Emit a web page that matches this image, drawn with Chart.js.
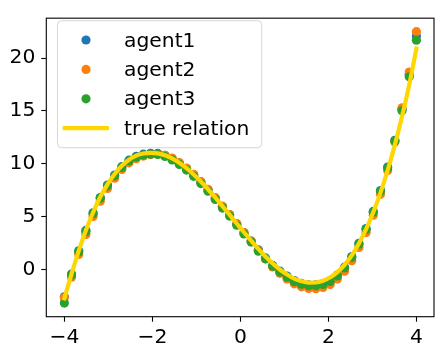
<!DOCTYPE html>
<html>
<head>
<meta charset="utf-8">
<script src="https://cdn.jsdelivr.net/npm/chart.js@4/dist/chart.umd.min.js"></script>
<style>
  html, body { margin: 0; padding: 0; background: #fff; }
  #wrap { width: 443px; height: 357px; }
</style>
</head>
<body>
<div id="wrap"><canvas id="c" width="443" height="357"></canvas></div>
<script>
// x positions (50 evenly spaced samples from -4 to 4)
const xValues = [-4.000,-3.837,-3.673,-3.510,-3.347,-3.184,-3.020,-2.857,-2.694,-2.531,
  -2.367,-2.204,-2.041,-1.878,-1.714,-1.551,-1.388,-1.224,-1.061,-0.898,
  -0.735,-0.571,-0.408,-0.245,-0.082,0.082,0.245,0.408,0.571,0.735,
  0.898,1.061,1.224,1.388,1.551,1.714,1.878,2.041,2.204,2.367,
  2.531,2.694,2.857,3.020,3.184,3.347,3.510,3.673,3.837,4.000];

const agent1 = [-2.60,-0.45,1.75,3.68,5.35,6.80,7.98,8.92,9.72,10.33,
  10.70,10.90,10.98,10.97,10.79,10.48,10.06,9.54,8.95,8.27,
  7.53,6.75,5.95,5.17,4.30,3.47,2.68,1.84,1.08,0.37,
  -0.16,-0.64,-1.07,-1.34,-1.48,-1.48,-1.36,-1.06,-0.55,0.20,
  1.20,2.46,3.86,5.48,7.45,9.68,12.22,15.15,18.45,22.10];

const agent2 = [-2.70,-0.75,1.40,3.30,5.00,6.45,7.65,8.62,9.45,10.08,
  10.48,10.72,10.86,10.92,10.80,10.52,10.10,9.58,8.98,8.30,
  7.56,6.78,5.96,5.18,4.32,3.48,2.66,1.78,0.98,0.22,
  -0.38,-0.92,-1.38,-1.66,-1.82,-1.84,-1.72,-1.44,-0.92,-0.18,
  0.82,2.07,3.48,5.12,7.10,9.36,12.05,15.30,18.68,22.50];

const agent3 = [-3.20,-0.55,1.64,3.57,5.25,6.72,7.90,8.85,9.65,10.26,
  10.63,10.82,10.90,10.88,10.68,10.36,9.93,9.40,8.80,8.12,
  7.39,6.61,5.80,5.04,4.17,3.35,2.58,1.72,0.99,0.29,
  -0.25,-0.74,-1.17,-1.42,-1.57,-1.57,-1.44,-1.15,-0.63,0.12,
  1.12,2.37,3.77,5.41,7.38,9.60,12.15,15.01,18.23,21.70];

const trueRelation = [-2.75,-0.45,1.75,3.70,5.38,6.85,8.05,9.02,9.80,10.38,
  10.76,10.96,11.02,10.98,10.79,10.50,10.08,9.57,8.98,8.31,
  7.58,6.80,5.99,5.17,4.34,3.51,2.71,1.93,1.22,0.56,
  -0.02,-0.50,-0.88,-1.13,-1.26,-1.25,-1.09,-0.76,-0.27,0.42,
  1.32,2.45,3.80,5.40,7.26,9.38,11.78,14.47,17.48,20.90];

const seriesLabels = ['agent1', 'agent2', 'agent3', 'true relation'];
const xTicks = [-4, -2, 0, 2, 4];
const yTicks = [0, 5, 10, 15, 20];

const toPts = ys => ys.map((y, i) => ({ x: xValues[i], y }));
const FONT = '"DejaVu Sans", "Liberation Sans", sans-serif';
const FSIZE = 20.3;
const fmt = v => (v < 0 ? '\u2212' + Math.abs(v) : String(v));

const frameAndLegend = {
  id: 'frameAndLegend',
  afterDatasetsDraw(chart) {
    const ctx = chart.ctx;
    const a = chart.chartArea;
    ctx.save();
    // axes frame
    ctx.strokeStyle = '#000';
    ctx.lineWidth = 1.1;
    ctx.strokeRect(a.left, a.top, a.right - a.left, a.bottom - a.top);

    // legend
    const lx = 57.5, ly = 20.7, lw = 204.2, lh = 127, r = 4;
    ctx.beginPath();
    ctx.moveTo(lx + r, ly);
    ctx.lineTo(lx + lw - r, ly);
    ctx.quadraticCurveTo(lx + lw, ly, lx + lw, ly + r);
    ctx.lineTo(lx + lw, ly + lh - r);
    ctx.quadraticCurveTo(lx + lw, ly + lh, lx + lw - r, ly + lh);
    ctx.lineTo(lx + r, ly + lh);
    ctx.quadraticCurveTo(lx, ly + lh, lx, ly + lh - r);
    ctx.lineTo(lx, ly + r);
    ctx.quadraticCurveTo(lx, ly, lx + r, ly);
    ctx.closePath();
    ctx.fillStyle = 'rgba(255,255,255,0.8)';
    ctx.fill();
    ctx.strokeStyle = 'rgba(204,204,204,0.8)';
    ctx.lineWidth = 1;
    ctx.stroke();

    const rows = [40, 69.4, 98.8, 128.2];
    ctx.font = FSIZE + 'px ' + FONT;
    ctx.textBaseline = 'alphabetic';
    ctx.textAlign = 'left';
    chart.data.datasets.forEach((ds) => {
      const idx = seriesLabels.indexOf(ds.label);
      const y = rows[idx];
      if (ds.type === 'line') {
        ctx.beginPath();
        ctx.moveTo(62.7, y);
        ctx.lineTo(109, y);
        ctx.strokeStyle = ds.borderColor;
        ctx.lineWidth = ds.borderWidth;
        ctx.lineCap = 'butt';
        ctx.stroke();
      } else {
        ctx.beginPath();
        ctx.arc(86, y, ds.pointRadius, 0, Math.PI * 2);
        ctx.fillStyle = ds.backgroundColor;
        ctx.fill();
      }
      ctx.fillStyle = '#000';
      ctx.fillText(ds.label, 124, y + 6.5);
    });
    ctx.restore();
  }
};

new Chart(document.getElementById('c'), {
  type: 'scatter',
  data: {
    datasets: [
      { type: 'line', label: seriesLabels[3], data: toPts(trueRelation), borderColor: '#FFD700',
        backgroundColor: '#FFD700', borderWidth: 4.2, pointRadius: 0, fill: false,
        cubicInterpolationMode: 'monotone', borderCapStyle: 'square', order: 0 },
      { label: seriesLabels[2], data: toPts(agent3), backgroundColor: '#2ca02c', borderWidth: 0, pointRadius: 4.6, order: 1 },
      { label: seriesLabels[1], data: toPts(agent2), backgroundColor: '#ff7f0e', borderWidth: 0, pointRadius: 4.6, order: 2 },
      { label: seriesLabels[0], data: toPts(agent1), backgroundColor: '#1f77b4', borderWidth: 0, pointRadius: 4.6, order: 3 }
    ]
  },
  options: {
    responsive: false,
    animation: false,
    devicePixelRatio: 1,
    layout: { padding: { top: 10, right: 9, left: 0, bottom: 0 } },
    plugins: { legend: { display: false }, tooltip: { enabled: false } },
    scales: {
      x: {
        type: 'linear', min: -4.41, max: 4.40,
        afterFit: s => { s.height = 40.3; },
        afterBuildTicks: s => { s.ticks = xTicks.map(v => ({ value: v })); },
        grid: { drawOnChartArea: false, drawTicks: true, tickLength: 5, tickColor: '#000', tickWidth: 1.1 },
        border: { display: false },
        ticks: { color: '#000', font: { family: FONT, size: FSIZE }, padding: 4, maxRotation: 0, callback: v => fmt(v) }
      },
      y: {
        type: 'linear', min: -4.49, max: 23.78,
        afterFit: s => { s.width = 46.3; },
        afterBuildTicks: s => { s.ticks = yTicks.map(v => ({ value: v })); },
        grid: { drawOnChartArea: false, drawTicks: true, tickLength: 5, tickColor: '#000', tickWidth: 1.1 },
        border: { display: false },
        ticks: { color: '#000', font: { family: FONT, size: FSIZE }, padding: 6, callback: v => fmt(v) }
      }
    }
  },
  plugins: [frameAndLegend]
});
</script>
</body>
</html>
